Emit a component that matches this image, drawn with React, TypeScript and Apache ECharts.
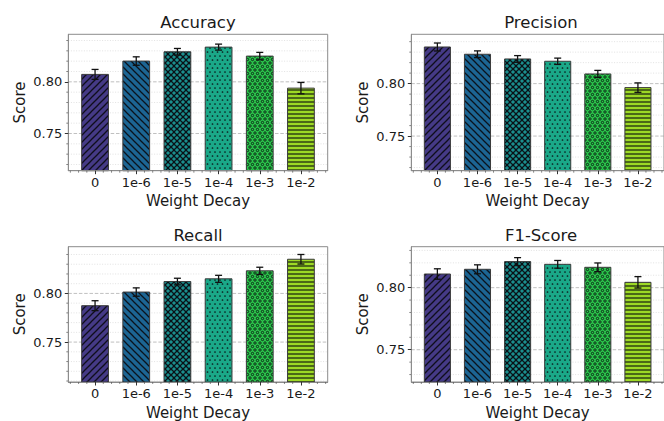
import React, { useEffect, useRef } from 'react';
import * as echarts from 'echarts';

// ---------- data ----------
const CATEGORIES = ['0', '1e-6', '1e-5', '1e-4', '1e-3', '1e-2'];
const METRICS = ['Accuracy', 'Precision', 'Recall', 'F1-Score'];
const ACCURACY = [0.8072, 0.8201, 0.8291, 0.8336, 0.8249, 0.7939];
const ACCURACY_ERR = [0.0048, 0.0041, 0.0032, 0.0029, 0.0036, 0.0055];
const PRECISION = [0.8349, 0.828, 0.8235, 0.8213, 0.8092, 0.7962];
const PRECISION_ERR = [0.0038, 0.0032, 0.0032, 0.003, 0.0034, 0.0045];
const RECALL = [0.7874, 0.8014, 0.8122, 0.815, 0.8232, 0.8351];
const RECALL_ERR = [0.0051, 0.0043, 0.0034, 0.0036, 0.0037, 0.0049];
const F1 = [0.811, 0.8148, 0.821, 0.8188, 0.8164, 0.8043];
const F1_ERR = [0.0042, 0.0036, 0.0032, 0.0031, 0.0035, 0.0046];
const Y_MIN = [0.714, 0.717, 0.709, 0.724];
const Y_MAX = [0.846, 0.847, 0.848, 0.833];
const Y_MAJOR_TICKS = [0.75, 0.8];
const Y_TICK_LABELS = ['0.75', '0.80'];
const Y_MINOR_TICKS = [0.71, 0.72, 0.73, 0.74, 0.76, 0.77, 0.78, 0.79, 0.81, 0.82, 0.83, 0.84];
const X_TICKS = [0, 1, 2, 3, 4, 5];
const X_MIN = -0.65;
const X_MAX = 5.65;
const BAR_WIDTH = 0.65;

const VALUES = [ACCURACY, PRECISION, RECALL, F1];
const ERRORS = [ACCURACY_ERR, PRECISION_ERR, RECALL_ERR, F1_ERR];

// ---------- styles / layout ----------
const COLORS = ['#453a86', '#1c6593', '#1b8f8e', '#1aa888', '#2bc84c', '#9dd925'];
const HATCHES = ['//', '\\\\', 'xx', '..', 'oo', '--'];
const HATCH_COLOR = 'rgba(10,10,15,0.9)';
const FONT = 'DejaVu Sans';
const GRID_LEFT = [68.3, 411.3, 68.3, 411.3];
const GRID_TOP = [34.3, 34.3, 246.7, 246.7];
const GRID_W = 259.4;
const GRID_H = 136.4;
const TITLE_Y = [22, 22, 235, 235];
const SPINE = '#8c8c8c';
const TEXT = '#1a1a1a';

function makeHatch(kind: string, bg: string) {
  const sizes: Record<string, [number, number]> = {
    '//': [7, 7],
    '\\\\': [7, 7],
    xx: [6, 6],
    '..': [5, 8],
    oo: [5, 7],
    '--': [4, 4],
  };
  const [w, h] = sizes[kind];
  const c = document.createElement('canvas');
  c.width = w;
  c.height = h;
  const ctx = c.getContext('2d')!;
  ctx.fillStyle = bg;
  ctx.fillRect(0, 0, w, h);
  ctx.strokeStyle = HATCH_COLOR;
  ctx.fillStyle = HATCH_COLOR;
  ctx.lineWidth = 1.25;
  const diag = (up: boolean) => {
    for (const k of [-1, 0, 1]) {
      ctx.beginPath();
      if (up) {
        ctx.moveTo(k * w - 1, h + 1);
        ctx.lineTo(k * w + w + 1, -1);
      } else {
        ctx.moveTo(k * w - 1, -1);
        ctx.lineTo(k * w + w + 1, h + 1);
      }
      ctx.stroke();
    }
  };
  const dots = (r: number, ring: boolean) => {
    const pts = [
      [0, 0], [w, 0], [0, h], [w, h], [w / 2, h / 2],
    ];
    for (const [x, y] of pts) {
      ctx.beginPath();
      ctx.arc(x, y, r, 0, Math.PI * 2);
      if (ring) {
        ctx.lineWidth = 0.9;
        ctx.stroke();
      } else ctx.fill();
    }
  };
  if (kind === '//') diag(true);
  else if (kind === '\\\\') diag(false);
  else if (kind === 'xx') {
    diag(true);
    diag(false);
  } else if (kind === '..') dots(0.85, false);
  else if (kind === 'oo') dots(1.2, true);
  else if (kind === '--') ctx.fillRect(0, h / 2 - 0.6, w, 1.2);
  return { image: c, repeat: 'repeat', imageWidth: w, imageHeight: h } as any;
}

export default function App() {
  const ref = useRef<HTMLDivElement>(null);
  useEffect(() => {
    if (!ref.current) return;
    const chart = echarts.init(ref.current, undefined, { renderer: 'svg' });
    const patterns = COLORS.map((c, i) => makeHatch(HATCHES[i], c));

    const grid: any[] = [];
    const xAxis: any[] = [];
    const yAxis: any[] = [];
    const series: any[] = [];
    const graphic: any[] = [];

    METRICS.forEach((metric, p) => {
      grid.push({
        left: GRID_LEFT[p],
        top: GRID_TOP[p],
        width: GRID_W,
        height: GRID_H,
        show: true,
        borderColor: SPINE,
        borderWidth: 1,
        containLabel: false,
      });
      xAxis.push({
        type: 'value',
        gridIndex: p,
        min: X_MIN,
        max: X_MAX,
        z: 5,
        name: 'Weight Decay',
        nameLocation: 'middle',
        nameGap: 23,
        nameTextStyle: { fontFamily: FONT, fontSize: 15, color: TEXT },
        axisLine: { show: true, onZero: false, lineStyle: { color: SPINE, width: 1 } },
        axisTick: { show: true, customValues: X_TICKS, length: 3.5, lineStyle: { color: '#333', width: 1 } },
        axisLabel: {
          customValues: X_TICKS,
          formatter: (v: number) => CATEGORIES[Math.round(v)],
          fontFamily: FONT,
          fontSize: 13,
          color: TEXT,
          margin: 5,
        },
        splitLine: { show: false },
      });
      yAxis.push({
        type: 'value',
        gridIndex: p,
        min: Y_MIN[p],
        max: Y_MAX[p],
        z: 5,
        name: 'Score',
        nameLocation: 'middle',
        nameGap: 41,
        nameTextStyle: { fontFamily: FONT, fontSize: 15, color: TEXT },
        axisLine: { show: true, onZero: false, lineStyle: { color: SPINE, width: 1 } },
        axisTick: { show: true, customValues: Y_MAJOR_TICKS, length: 3.5, lineStyle: { color: '#333', width: 1 } },
        axisLabel: {
          customValues: Y_MAJOR_TICKS,
          formatter: (v: number) => {
            const k = Y_MAJOR_TICKS.findIndex((t) => Math.abs(t - v) < 1e-9);
            return k >= 0 ? Y_TICK_LABELS[k] : v.toFixed(2);
          },
          fontFamily: FONT,
          fontSize: 13,
          color: TEXT,
          margin: 6,
        },
        splitLine: { show: false },
      });

      const yMin = Y_MIN[p];
      const yMax = Y_MAX[p];
      const gridData = [
        ...Y_MINOR_TICKS.filter((v) => v > yMin && v < yMax).map((v) => [0, v, 0]),
        ...Y_MAJOR_TICKS.map((v) => [0, v, 1]),
      ];
      // gridlines + minor ticks
      series.push({
        type: 'custom',
        xAxisIndex: p,
        yAxisIndex: p,
        z: 1,
        silent: true,
        data: gridData,
        renderItem: (params: any, api: any) => {
          const v = api.value(1);
          const major = api.value(2) === 1;
          const a = api.coord([X_MIN, v]);
          const b = api.coord([X_MAX, v]);
          const children: any[] = [
            {
              type: 'line',
              shape: { x1: a[0], y1: a[1], x2: b[0], y2: b[1] },
              style: major
                ? { stroke: 'rgba(150,150,150,0.75)', lineWidth: 0.8, lineDash: [3.5, 1.8] }
                : { stroke: 'rgba(180,180,180,0.55)', lineWidth: 0.7, lineDash: [1, 1.6] },
            },
          ];
          if (!major) {
            children.push({
              type: 'line',
              shape: { x1: a[0] - 2, y1: a[1], x2: a[0], y2: a[1] },
              style: { stroke: '#555', lineWidth: 0.7 },
            });
          }
          return { type: 'group', children };
        },
      });
      // x minor ticks
      const xMinor: number[][] = [];
      for (let t = -3; t <= 28; t++) {
        if (t % 5 !== 0) xMinor.push([t / 5, yMin]);
      }
      series.push({
        type: 'custom',
        xAxisIndex: p,
        yAxisIndex: p,
        z: 6,
        silent: true,
        data: xMinor,
        renderItem: (params: any, api: any) => {
          const c = api.coord([api.value(0), api.value(1)]);
          return {
            type: 'line',
            shape: { x1: c[0], y1: c[1], x2: c[0], y2: c[1] + 2 },
            style: { stroke: '#555', lineWidth: 0.7 },
          };
        },
      });
      // bars + error bars
      const vals = VALUES[p];
      const errs = ERRORS[p];
      series.push({
        type: 'custom',
        name: metric,
        xAxisIndex: p,
        yAxisIndex: p,
        z: 3,
        data: vals.map((v, i) => [i, v, errs[i]]),
        renderItem: (params: any, api: any) => {
          const i = api.value(0);
          const v = api.value(1);
          const e = api.value(2);
          const tl = api.coord([i - BAR_WIDTH / 2, v]);
          const br = api.coord([i + BAR_WIDTH / 2, yMin]);
          const top = api.coord([i, v + e]);
          const bot = api.coord([i, v - e]);
          const cap = 3.5;
          const es = { stroke: '#111', lineWidth: 1.3 };
          return {
            type: 'group',
            children: [
              {
                type: 'rect',
                shape: { x: tl[0], y: tl[1], width: br[0] - tl[0], height: br[1] - tl[1] },
                style: { fill: patterns[params.dataIndex], stroke: '#3a3a3a', lineWidth: 1 },
              },
              { type: 'line', shape: { x1: top[0], y1: top[1], x2: bot[0], y2: bot[1] }, style: es },
              { type: 'line', shape: { x1: top[0] - cap, y1: top[1], x2: top[0] + cap, y2: top[1] }, style: es },
              { type: 'line', shape: { x1: bot[0] - cap, y1: bot[1], x2: bot[0] + cap, y2: bot[1] }, style: es },
            ],
          };
        },
      });

      graphic.push({
        type: 'text',
        x: GRID_LEFT[p] + GRID_W / 2,
        y: TITLE_Y[p],
        style: {
          text: metric,
          fontFamily: FONT,
          fontSize: 16.5,
          fill: TEXT,
          align: 'center',
          verticalAlign: 'middle',
        },
      });
    });

    chart.setOption({
      animation: false,
      backgroundColor: '#ffffff',
      grid,
      xAxis,
      yAxis,
      series,
      graphic,
    });
    return () => chart.dispose();
  }, []);
  return (
    <div
      ref={ref}
      style={{ position: 'absolute', left: 0, top: 0, width: 664, height: 421 }}
    />
  );
}
